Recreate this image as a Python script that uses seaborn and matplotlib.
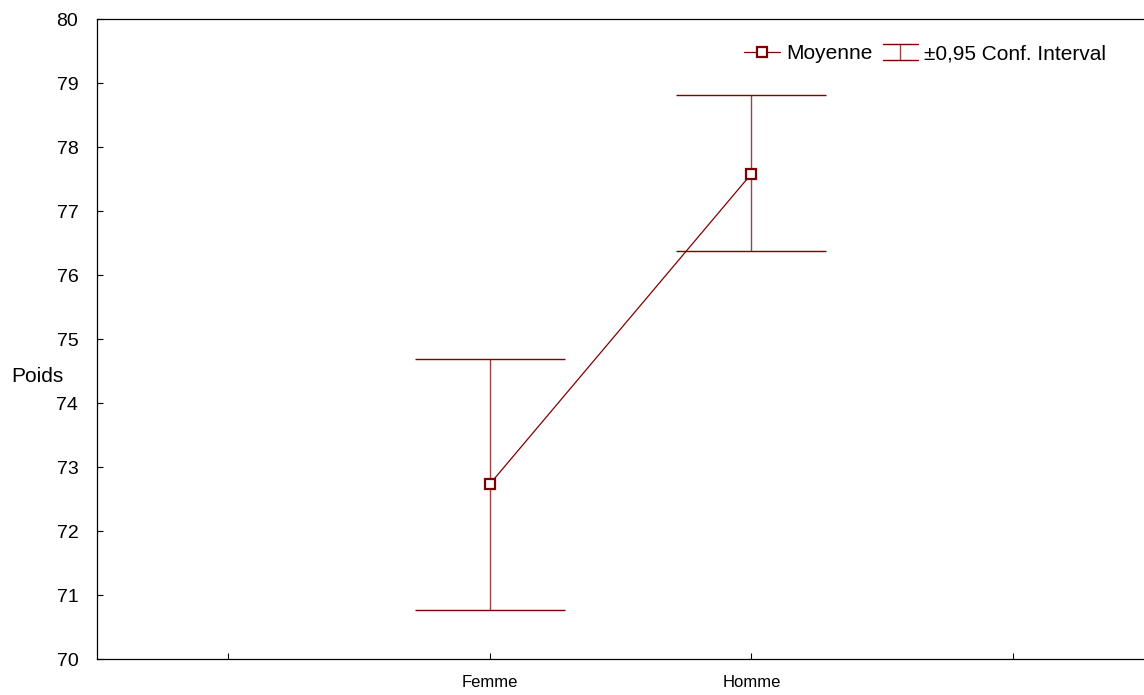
import matplotlib
matplotlib.use("Agg")
import matplotlib.pyplot as plt
import seaborn as sns
import pandas as pd
from matplotlib.lines import Line2D
from matplotlib.legend_handler import HandlerBase

categories = ["Femme", "Homme"]
means = [72.73, 77.58]
ci_low = [70.77, 76.38]
ci_high = [74.69, 78.81]
order = ["_left", "Femme", "Homme", "_right"]
tick_labels = ["", "Femme", "Homme", ""]

sns.set_theme(style="white")
plt.rcParams["font.family"] = ["Liberation Sans", "DejaVu Sans"]
plt.rcParams["font.size"] = 14
for k in ["text.color", "axes.labelcolor", "xtick.color", "ytick.color"]:
    plt.rcParams[k] = "black"

color = "#800000"
df = pd.DataFrame({"Sexe": categories, "Poids": means})

fig = plt.figure(figsize=(11.44, 6.95), dpi=100)
ax = fig.add_axes([97 / 1144, 1 - 659 / 695, 1 - 97 / 1144, (659 - 19) / 695])

sns.pointplot(data=df, x="Sexe", y="Poids", order=order, errorbar=None,
              color=color, markers="s", linestyles="-", ax=ax,
              markersize=7.5, markerfacecolor="white", markeredgewidth=1.6,
              linewidth=0.9, zorder=3)

xpos = [order.index(c) for c in categories]
yerr = [[m - lo for m, lo in zip(means, ci_low)],
        [hi - m for m, hi in zip(means, ci_high)]]
eb = ax.errorbar(xpos, means, yerr=yerr, fmt="none", ecolor=color,
                 elinewidth=1.0, capsize=54, capthick=1.0, zorder=2)
for lc in eb[2]:
    lc.set_alpha(0.75)

ax.set_xlim(-0.5, 3.5)
ax.set_ylim(70, 80)
ax.set_yticks(range(70, 81))
ax.set_xticks(range(len(order)))
ax.set_xticklabels(tick_labels, fontsize=12)
ax.set_xlabel("")
ax.set_ylabel("Poids", rotation=0, fontsize=15, ha="center", va="center")
ax.yaxis.set_label_coords(-0.0565, 0.442)

ax.tick_params(axis="both", direction="in", length=4, width=0.8,
               colors="black")
ax.tick_params(axis="y", pad=13.5, labelsize=14)
ax.tick_params(axis="x", pad=11.5)
ax.tick_params(left=True, bottom=True)
for s in ["left", "bottom", "top"]:
    ax.spines[s].set_visible(True)
    ax.spines[s].set_color("black")
    ax.spines[s].set_linewidth(0.9)
ax.spines["right"].set_visible(False)
ax.grid(False)


class HandlerCI(HandlerBase):
    def create_artists(self, legend, orig_handle, xdescent, ydescent,
                       width, height, fontsize, trans):
        x0, x1 = -xdescent, -xdescent + width
        y0, y1 = -ydescent, -ydescent + height
        xm = (x0 + x1) / 2
        arts = [Line2D([x0, x1], [y1, y1]), Line2D([x0, x1], [y0, y0]),
                Line2D([xm, xm], [y0, y1])]
        for a in arts:
            a.set_color(color)
            a.set_linewidth(1.0)
            a.set_transform(trans)
        arts[2].set_alpha(0.75)
        return arts


mean_handle = Line2D([0], [0], color=color, marker="s", markersize=7.5,
                     markerfacecolor="white", markeredgewidth=1.6, lw=0.9)
ax.legend([mean_handle, eb], ["Moyenne", "±0,95 Conf. Interval"],
          handler_map={type(eb): HandlerCI()},
          loc="center right", bbox_to_anchor=(0.974, 0.946), ncol=2,
          frameon=False, fontsize=15, handlelength=1.7, columnspacing=0.5,
          handletextpad=0.3, borderpad=0, handleheight=0.8)

fig.savefig("out.png", dpi=100)
